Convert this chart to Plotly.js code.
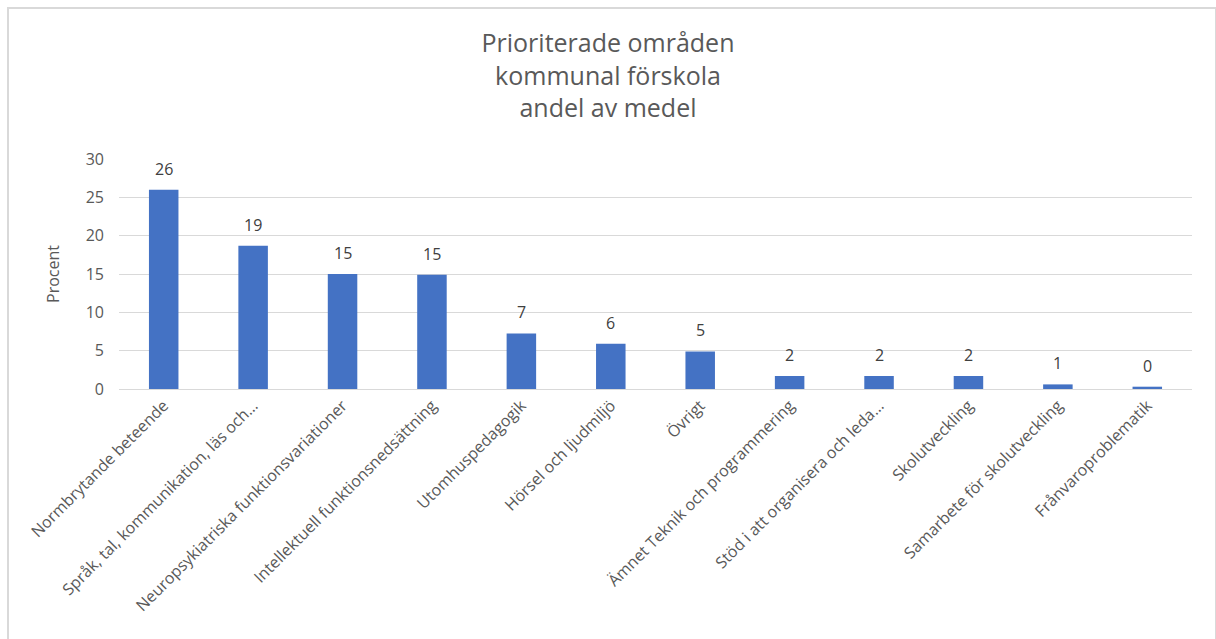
<!DOCTYPE html>
<html>
<head>
<meta charset="utf-8">
<script src="https://cdn.plot.ly/plotly-3.0.1.min.js"></script>
<style>
html,body{margin:0;padding:0;background:#fff;}
#wrap{position:relative;width:1216px;height:639px;overflow:hidden;}
#chart{position:absolute;left:0;top:0;width:1216px;height:639px;}
#frame{position:absolute;left:7px;top:7px;width:1206px;height:640px;border:2px solid #d9d9d9;pointer-events:none;}
</style>
</head>
<body>
<div id="wrap"><div id="chart"></div><div id="frame"></div></div>
<script>
const categories = [
  "Normbrytande beteende",
  "Språk, tal, kommunikation, läs och…",
  "Neuropsykiatriska funktionsvariationer",
  "Intellektuell funktionsnedsättning",
  "Utomhuspedagogik",
  "Hörsel och ljudmiljö",
  "Övrigt",
  "Ämnet Teknik och programmering",
  "Stöd i att organisera och leda…",
  "Skolutveckling",
  "Samarbete för skolutveckling",
  "Frånvaroproblematik"
];
const values = [26.0, 18.7, 15.0, 14.9, 7.25, 5.9, 4.9, 1.7, 1.7, 1.7, 0.6, 0.3];
const yTicks = [0, 5, 10, 15, 20, 25, 30];

const font = "Open Sans, Liberation Sans, sans-serif";

const trace = {
  type: "bar",
  x: categories,
  y: values,
  marker: {color: "#4472C4"},
  hoverinfo: "x+y"
};

const labels = categories.map((c, i) => ({
  x: c,
  y: values[i],
  xref: "x",
  yref: "y",
  text: String(Math.round(values[i])),
  showarrow: false,
  yanchor: "bottom",
  yshift: 8,
  font: {family: font, size: 16, color: "#404040"}
}));

const layout = {
  width: 1216,
  height: 639,
  margin: {l: 119, r: 24, t: 159, b: 250, pad: 0},
  paper_bgcolor: "rgba(0,0,0,0)",
  plot_bgcolor: "#fff",
  bargap: 0.67,
  showlegend: false,
  annotations: labels,
  title: {
    text: "Prioriterade områden<br>kommunal förskola<br>andel av medel",
    font: {family: font, size: 25, color: "#595959"},
    x: 0.5, xanchor: "center",
    y: 0.918, yanchor: "top"
  },
  xaxis: {
    type: "category",
    tickangle: -45,
    tickfont: {family: font, size: 16, color: "#595959"},
    showgrid: false,
    showline: true,
    linecolor: "#d9d9d9",
    linewidth: 1,
    ticks: "",
    automargin: false
  },
  yaxis: {
    range: [0, 30],
    tickvals: yTicks,
    ticktext: yTicks.map(String),
    tickfont: {family: font, size: 16, color: "#595959"},
    showgrid: true,
    gridcolor: "#d9d9d9",
    gridwidth: 1,
    zeroline: false,
    showline: false,
    ticks: "",
    ticklabelstandoff: 14,
    automargin: false,
    title: {text: "Procent", font: {family: font, size: 16, color: "#595959"}, standoff: 22}
  }
};

Plotly.newPlot("chart", [trace], layout, {displayModeBar: false, staticPlot: true});
</script>
</body>
</html>
